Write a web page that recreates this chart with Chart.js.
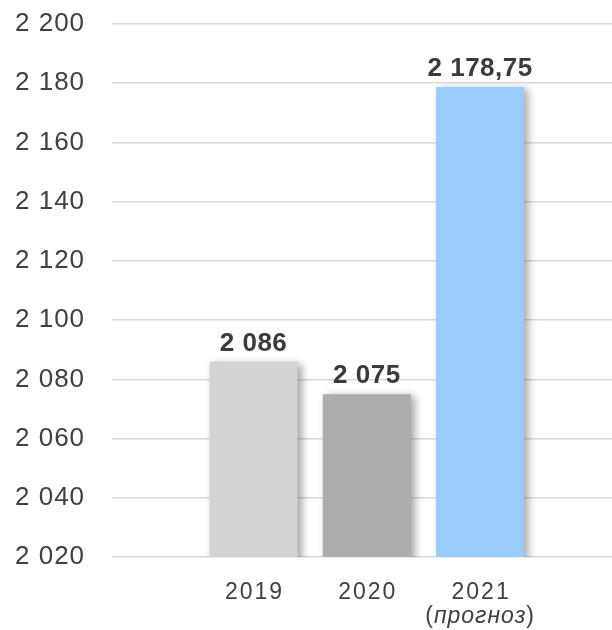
<!DOCTYPE html>
<html><head><meta charset="utf-8">
<script src="https://cdn.jsdelivr.net/npm/chart.js@4/dist/chart.umd.min.js"></script>
<style>html,body{margin:0;padding:0;background:#fff}#wrap{width:612px;height:630px}</style>
</head><body><div id="wrap"><canvas id="c" width="612" height="630"></canvas></div>
<script>
// ---- data ----
const categories = ['2019', '2020', '2021'];
const categoryNotes = ['', '', 'прогноз'];
const values = [2086, 2075, 2178.75];
const valueLabels = ['2 086', '2 075', '2 178,75'];
const yMin = 2020, yMax = 2200, yStep = 20;

// ---- styles ----
const FONT = "'Liberation Sans', Arial, sans-serif";
const barColors = ['#d3d3d3', '#adadad', '#99ccff'];
const fmt = v => String(v).replace(/\B(?=(\d{3})+(?!\d))/g, ' ');

const spacingPlugin = {
  id: 'spacing',
  beforeDraw(chart) { chart.ctx.letterSpacing = '1px'; }
};

const shadowPlugin = {
  id: 'barShadow',
  beforeDatasetsDraw(chart) {
    const ctx = chart.ctx;
    ctx.save();
    ctx.shadowColor = 'rgba(0,0,0,0.35)';
    ctx.shadowBlur = 8;
    ctx.shadowOffsetX = 4;
    ctx.shadowOffsetY = 2;
  },
  afterDatasetsDraw(chart) { chart.ctx.restore(); }
};

const labelPlugin = {
  id: 'valueLabels',
  afterDraw(chart) {
    const ctx = chart.ctx;
    const meta = chart.getDatasetMeta(0);
    ctx.save();
    ctx.letterSpacing = '0.5px';
    ctx.font = 'bold 26px ' + FONT;
    ctx.fillStyle = '#3a3a3a';
    ctx.textAlign = 'center';
    ctx.textBaseline = 'alphabetic';
    meta.data.forEach((bar, i) => {
      ctx.fillText(valueLabels[i], bar.x, bar.y - 11);
    });
    // category labels and notes
    const xs = chart.scales.x;
    ctx.fillStyle = '#404040';
    categories.forEach((cat, i) => {
      const cx = xs.getPixelForValue(i + 1);
      ctx.letterSpacing = '2px';
      ctx.font = '23px ' + FONT;
      ctx.textAlign = 'center';
      ctx.textBaseline = 'middle';
      ctx.fillText(cat, cx + 1, 593);
      const note = categoryNotes[i];
      if (!note) return;
      const y = 617;
      ctx.letterSpacing = '1px';
      const nf = '23px ' + FONT, itf = 'italic 23px ' + FONT;
      ctx.font = nf; const wo = ctx.measureText('(').width, wc = ctx.measureText(')').width;
      ctx.font = itf; const wi = ctx.measureText(note).width;
      let x = cx - (wo + wi + wc) / 2;
      ctx.textAlign = 'left';
      ctx.font = nf; ctx.fillText('(', x, y); x += wo;
      ctx.font = itf; ctx.fillText(note, x, y); x += wi;
      ctx.font = nf; ctx.fillText(')', x, y);
    });
    ctx.restore();
  }
};

new Chart(document.getElementById('c'), {
  type: 'bar',
  data: {
    datasets: [{
      data: values.map((v, i) => ({ x: i + 1, y: v })),
      backgroundColor: barColors,
      borderWidth: 0,
      categoryPercentage: 1,
      barPercentage: 0.777
    }]
  },
  options: {
    responsive: false,
    animation: false,
    devicePixelRatio: 1,
    layout: { padding: { left: 15, top: 24, right: 0, bottom: 0 } },
    plugins: { legend: { display: false }, tooltip: { enabled: false } },
    scales: {
      x: {
        type: 'linear',
        offset: false,
        min: -0.249,
        max: 4.164,
        afterBuildTicks: s => { s.ticks = categories.map((c, i) => ({ value: i + 1 })); },
        afterFit: s => { s.height = 73; },
        grid: { display: false, drawTicks: false, offset: false },
        border: { display: false },
        ticks: { display: false }
      },
      y: {
        min: yMin,
        max: yMax,
        afterFit: s => { s.width = 97; },
        grid: { color: '#d9d9d9', lineWidth: 1.5, drawTicks: false },
        border: { display: false },
        ticks: {
          stepSize: yStep,
          callback: v => fmt(v),
          font: { family: FONT, size: 26 },
          color: '#404040',
          crossAlign: 'far',
          padding: 0
        }
      }
    }
  },
  plugins: [spacingPlugin, shadowPlugin, labelPlugin]
});
</script>
</body></html>
